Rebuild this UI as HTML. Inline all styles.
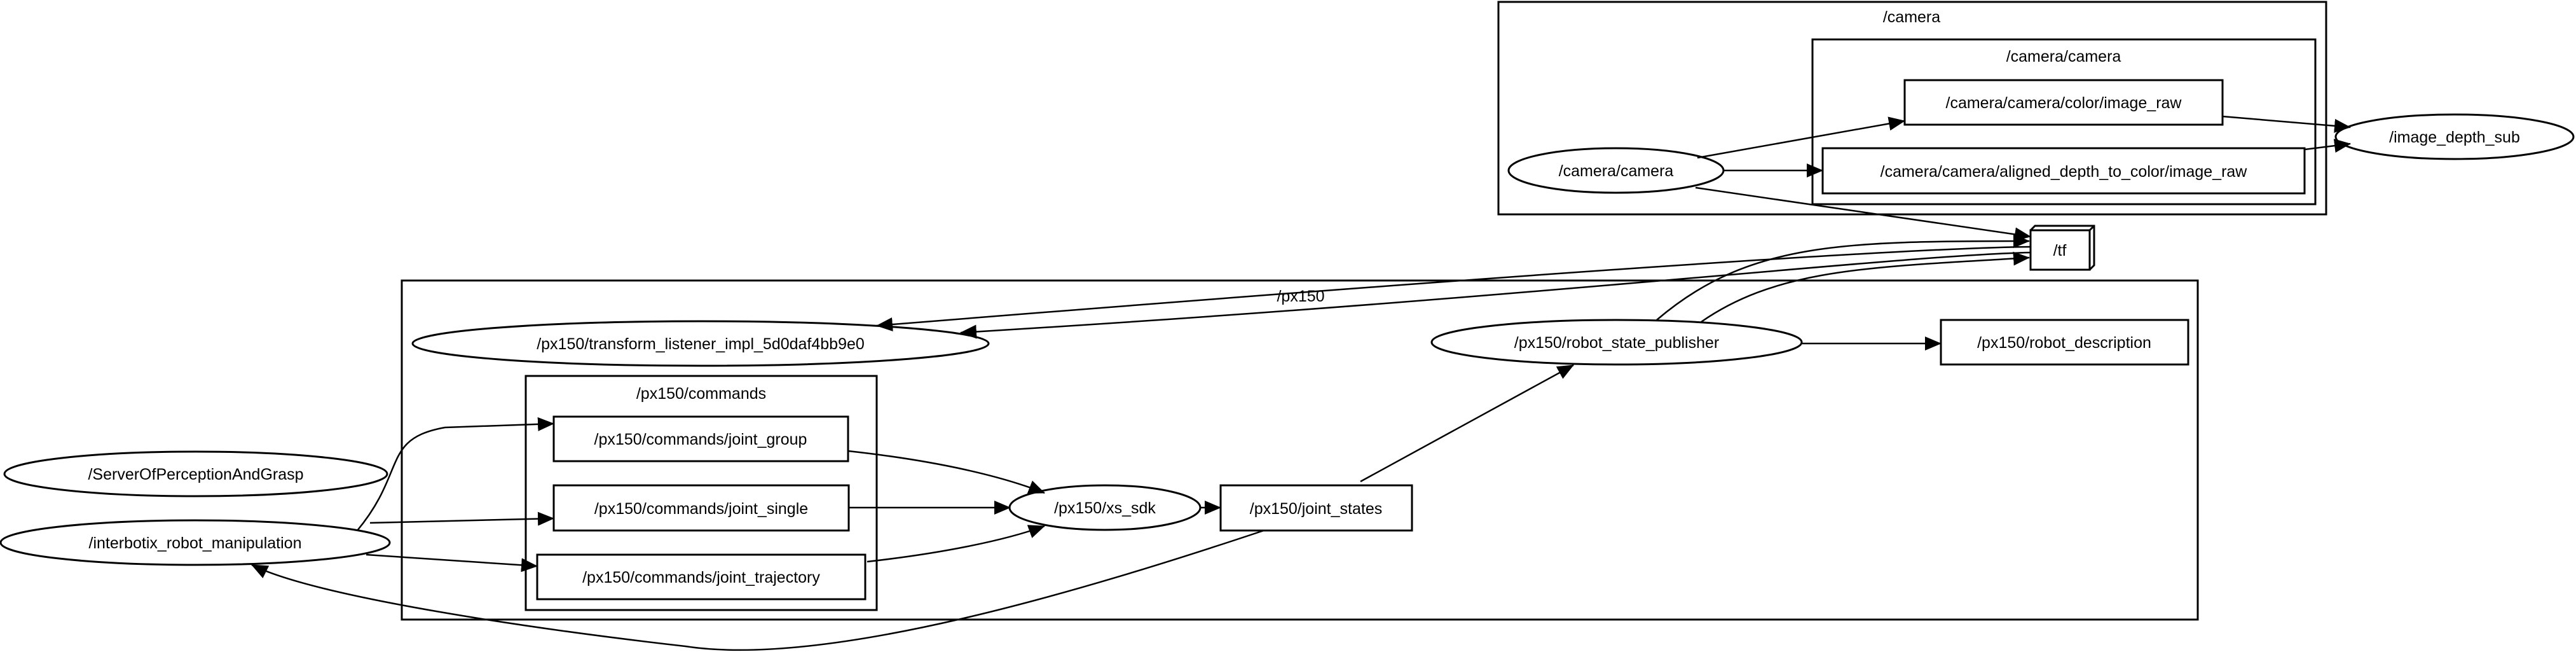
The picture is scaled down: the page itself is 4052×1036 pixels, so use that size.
<!DOCTYPE html>
<html><head><meta charset="utf-8"><style>html,body{margin:0;padding:0;background:#fff}svg{display:block}</style></head>
<body>
<svg width="4052" height="1036" viewBox="0 0 4052 1036" xmlns="http://www.w3.org/2000/svg" font-family="Liberation Sans, sans-serif" font-size="25" text-anchor="middle">
<defs><marker id="a" markerWidth="10" markerHeight="8" refX="9" refY="4" orient="auto" markerUnits="userSpaceOnUse" viewBox="0 0 10 8"><path d="M0,0 L10,4 L0,8 z" fill="#000"/></marker>
<marker id="b" markerWidth="26" markerHeight="22" refX="25" refY="11" orient="auto" markerUnits="userSpaceOnUse"><path d="M0,0 L26,11 L0,22 z" fill="#000"/></marker></defs>
<g fill="none" stroke="#000" stroke-width="3">
<rect x="2357" y="3" width="1302" height="334"/>
<rect x="2851" y="62" width="791" height="259"/>
<rect x="632" y="441" width="2825" height="533"/>
<rect x="827" y="591" width="552" height="368"/>
<rect x="2996" y="126" width="500" height="70"/>
<rect x="2867" y="233" width="758" height="71"/>
<rect x="3053" y="503" width="389" height="70"/>
<rect x="871" y="655" width="463" height="70"/>
<rect x="871" y="763" width="464" height="71"/>
<rect x="845" y="872" width="516" height="70"/>
<rect x="1920" y="763" width="301" height="71"/>
<rect x="3194" y="362" width="93" height="62"/>
<path d="M3194,362 L3201,355 L3294,355 L3294,417 L3287,424 M3287,362 L3294,355"/>
<ellipse cx="2542" cy="268" rx="169" ry="35"/>
<ellipse cx="3861" cy="215" rx="187" ry="35"/>
<ellipse cx="1102" cy="540" rx="453" ry="35"/>
<ellipse cx="2543" cy="538" rx="291" ry="35"/>
<ellipse cx="1738" cy="798" rx="150" ry="35"/>
<ellipse cx="308" cy="745" rx="301" ry="35"/>
<ellipse cx="307" cy="853" rx="306" ry="35"/>
</g>
<g fill="none" stroke="#000" stroke-width="2.5" marker-end="url(#b)">
<path d="M2670,248 L2996,190"/>
<path d="M2711,268 L2867,268"/>
<path d="M3496,183 L3697,200"/>
<path d="M3625,235 L3697,226"/>
<path d="M2667,295 L3194,372"/>
<path d="M2606,503 C2750,380 2900,379 3192,379"/>
<path d="M2676,506 C2800,420 2950,420 3192,405"/>
<path d="M3194,388 C3000,390 2400,430 1379,512"/>
<path d="M3194,397 C3000,400 2400,470 1511,523"/>
<path d="M2835,540 L3053,540"/>
<path d="M2140,757 L2475,574"/>
<path d="M562,834 C640,740 600,690 700,672 L871,666"/>
<path d="M582,822 L871,815"/>
<path d="M576,872 L845,890"/>
<path d="M1334,709 C1480,725 1580,750 1643,775"/>
<path d="M1335,798 L1589,798"/>
<path d="M1364,883 C1480,870 1580,850 1643,827"/>
<path d="M1888,798 L1920,798"/>
<path d="M1988,834 C1700,930 1300,1050 1078,1016 C850,990 500,940 396,888"/>
</g>
<g fill="#000">
<text x="3007" y="35">/camera</text>
<text x="3246" y="97">/camera/camera</text>
<text x="3246" y="170">/camera/camera/color/image_raw</text>
<text x="3246" y="278">/camera/camera/aligned_depth_to_color/image_raw</text>
<text x="2542" y="277">/camera/camera</text>
<text x="3861" y="224">/image_depth_sub</text>
<text x="3240" y="402">/tf</text>
<text x="2046" y="474">/px150</text>
<text x="1102" y="549">/px150/transform_listener_impl_5d0daf4bb9e0</text>
<text x="2543" y="547">/px150/robot_state_publisher</text>
<text x="3247" y="547">/px150/robot_description</text>
<text x="1103" y="627">/px150/commands</text>
<text x="1102" y="699">/px150/commands/joint_group</text>
<text x="1103" y="808">/px150/commands/joint_single</text>
<text x="1103" y="916">/px150/commands/joint_trajectory</text>
<text x="1738" y="807">/px150/xs_sdk</text>
<text x="2070" y="808">/px150/joint_states</text>
<text x="308" y="754">/ServerOfPerceptionAndGrasp</text>
<text x="307" y="862">/interbotix_robot_manipulation</text>
</g>
</svg>
</body></html>
